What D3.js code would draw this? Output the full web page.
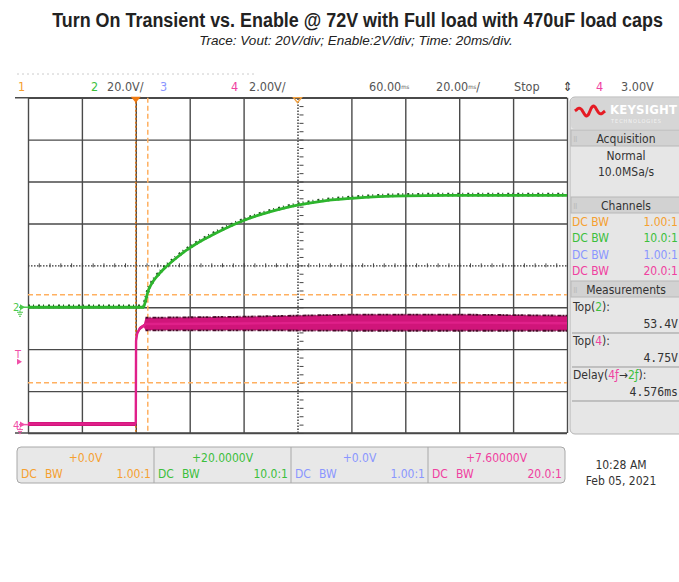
<!DOCTYPE html>
<html>
<head>
<meta charset="utf-8">
<script src="https://cdn.jsdelivr.net/npm/d3@7"></script>
<style>
  body { margin: 0; background: #fff; }
  svg { display: block; }
  .narrow { font-family: "Liberation Sans Narrow", "DejaVu Sans Condensed", "Roboto Condensed", sans-serif; }
  .mono { font-family: "DejaVu Sans Mono", "Liberation Mono", monospace; }
</style>
</head>
<body>
<svg id="chart" width="679" height="582"></svg>
<script>
// Vout (channel 2), time in ms, volts
const voutT = [-40, 2.8, 3.6, 4.5, 6, 8, 10, 15, 20, 25, 30, 35, 40, 45, 50, 55, 60, 70, 80, 90, 100, 120, 140, 160];
const voutV = [0, 0, 3, 7.5, 11.5, 15, 17.8, 23.5, 28.3, 32.2, 35.6, 38.7, 41.4, 43.7, 45.6, 47.3, 48.7, 50.8, 52.0, 52.8, 53.2, 53.4, 53.4, 53.4];

// Enable (channel 4) noise envelope
const enableT  = [-40, -0.2, 0.0, 0.1, 0.5, 1.5, 3.0, 3.6, 40, 80, 120, 160];
const enableHi = [0.13, 0.13, 0.3, 4.1, 4.45, 4.68, 4.8, 5.1, 5.15, 5.25, 5.25, 5.2];
const enableLo = [-0.06, -0.06, -0.06, 3.9, 4.25, 4.5, 4.65, 4.5, 4.5, 4.48, 4.48, 4.48];

// cursors
const cursorTimes = [4.45];
const cursorLevels = [2.0, 6.2];   // on channel 4 scale
const triggerTime = 0;
const triggerLevel = 3.0;

const timeTicks = d3.range(-40, 161, 20);
const voutTicks = d3.range(-60, 101, 20);

const headerItems = [
  { x: 18, text: '1', color: '#f5a030' },
  { x: 91, text: '2', color: '#3cbf3c' },
  { x: 107, text: '20.0V/', color: '#555' },
  { x: 160, text: '3', color: '#8a96ff' },
  { x: 231, text: '4', color: '#f040a0' },
  { x: 249, text: '2.00V/', color: '#555' },
  { x: 369, text: '60.00', unit: 'ms', color: '#555' },
  { x: 436, text: '20.00', unit: 'ms', tail: '/', color: '#555' },
  { x: 514, text: 'Stop', color: '#555' },
  { x: 563, text: '⇕', color: '#333' },
  { x: 596, text: '4', color: '#f040a0' },
  { x: 621, text: '3.00V', color: '#555' }
];

const channels = [
  { name: 'DC BW', ratio: '1.00:1', offset: '+0.0V', color: '#f5a030' },
  { name: 'DC BW', ratio: '10.0:1', offset: '+20.0000V', color: '#3cbf3c' },
  { name: 'DC BW', ratio: '1.00:1', offset: '+0.0V', color: '#8a96ff' },
  { name: 'DC BW', ratio: '20.0:1', offset: '+7.60000V', color: '#f040a0' }
];

const svg = d3.select('#chart');
const plotLeft = 28, plotRight = 567, plotTop = 97.7, plotBottom = 433;
const centreTime = 60, centreVout = 20;

const x = d3.scaleLinear().domain([-40, 160]).range([plotLeft, plotRight]);
const yVout = d3.scaleLinear().domain([-60, 100]).range([plotBottom, plotTop]);
const yEn = d3.scaleLinear().domain([-0.4, 15.6]).range([plotBottom, plotTop]);

// squeeze a text horizontally so it spans the given width
function fitText(sel, cx, cy, width) {
  const w = sel.node().getComputedTextLength();
  sel.attr('text-anchor', 'middle')
    .attr('transform', `translate(${cx},${cy}) scale(${Math.min(1, width / w)},1)`);
}

// title
const title = svg.append('text')
  .style('font-family', '"Liberation Sans", Arial, sans-serif')
  .style('font-size', '20.5px').style('font-weight', 'bold').style('fill', '#222')
  .text('Turn On Transient vs. Enable @ 72V with Full load with 470uF load caps');
fitText(title, 357.5, 27, 611);

const subtitle = svg.append('text')
  .style('font-family', '"Liberation Sans", Arial, sans-serif')
  .style('font-size', '13.5px').style('font-style', 'italic').style('fill', '#222')
  .text('Trace: Vout: 20V/div; Enable:2V/div; Time: 20ms/div.');
fitText(subtitle, 356, 45, 342);

// faint dotted line above header
svg.append('line')
  .attr('x1', 17).attr('x2', 255).attr('y1', 74).attr('y2', 74)
  .attr('stroke', '#ccc').attr('stroke-width', 1).attr('stroke-dasharray', '2,3');

// header row
const header = svg.append('g').attr('class', 'narrow').style('font-size', '12.5px');
headerItems.forEach(h => {
  const t = header.append('text').attr('x', h.x).attr('y', 91).style('fill', h.color).text(h.text);
  if (h.unit) t.append('tspan').style('font-size', '6px').attr('dy', -2).text(h.unit);
  if (h.tail) t.append('tspan').attr('dy', 2).text(h.tail);
});

// grid through axes
const grid = svg.append('g');
const gx = grid.append('g')
  .attr('transform', `translate(0,${plotBottom})`)
  .call(d3.axisBottom(x).tickValues(timeTicks).tickSize(-(plotBottom - plotTop)).tickFormat(''))
  .call(g => g.select('.domain').remove());
const gy = grid.append('g')
  .attr('transform', `translate(${plotLeft},0)`)
  .call(d3.axisLeft(yVout).tickValues(voutTicks).tickSize(-(plotRight - plotLeft)).tickFormat(''))
  .call(g => g.select('.domain').remove());
grid.selectAll('.tick line').attr('stroke', '#4a4a4a').attr('stroke-width', 1.4);
gx.selectAll('.tick').filter(d => d === centreTime).select('line')
  .attr('stroke-dasharray', '1.5,1.5').attr('stroke', '#333');
gy.selectAll('.tick').filter(d => d === centreVout).select('line')
  .attr('stroke-dasharray', '1.5,1.5').attr('stroke', '#333');

// top/bottom edges run a bit further left
[plotTop, plotBottom].forEach(yy => {
  svg.append('line').attr('x1', 15).attr('x2', plotRight).attr('y1', yy).attr('y2', yy)
    .attr('stroke', '#4a4a4a').attr('stroke-width', 1.5);
});

// minor ticks on the centre lines
svg.append('g')
  .attr('transform', `translate(0,${yVout(centreVout) + 2})`)
  .call(d3.axisBottom(x).tickValues(d3.range(-40, 161, 4)).tickSize(-4).tickFormat(''))
  .call(g => g.select('.domain').remove())
  .selectAll('line').attr('stroke', '#444');
svg.append('g')
  .attr('transform', `translate(${x(centreTime) + 2},0)`)
  .call(d3.axisLeft(yVout).tickValues(d3.range(-60, 101, 4)).tickSize(-4).tickFormat(''))
  .call(g => g.select('.domain').remove())
  .selectAll('line').attr('stroke', '#444');

// cursors
svg.selectAll('.vcursor').data(cursorTimes).enter().append('line')
  .attr('x1', d => x(d)).attr('x2', d => x(d)).attr('y1', plotTop).attr('y2', plotBottom)
  .attr('stroke', '#ffb060').attr('stroke-width', 1.5).attr('stroke-dasharray', '5,3');
svg.selectAll('.hcursor').data(cursorLevels).enter().append('line')
  .attr('x1', plotLeft).attr('x2', plotRight).attr('y1', d => yEn(d)).attr('y2', d => yEn(d))
  .attr('stroke', '#ffb060').attr('stroke-width', 1.5).attr('stroke-dasharray', '5,3');
svg.append('line')
  .attr('x1', x(triggerTime)).attr('x2', x(triggerTime)).attr('y1', plotTop).attr('y2', plotBottom)
  .attr('stroke', '#e07a1a').attr('stroke-width', 1.6).attr('stroke-dasharray', '2,2');

// trigger / delay markers on top edge
svg.append('path')
  .attr('d', `M${x(triggerTime) - 5},${plotTop - 1} L${x(triggerTime) + 5},${plotTop - 1} L${x(triggerTime)},${plotTop + 5} Z`)
  .attr('fill', '#f07a10');
svg.append('path')
  .attr('d', `M${x(centreTime) - 4},${plotTop} L${x(centreTime) + 4},${plotTop} L${x(centreTime)},${plotTop + 5} Z`)
  .attr('fill', 'none').attr('stroke', '#f0a040').attr('stroke-width', 1.3);

// Enable trace (noise band)
const enData = enableT.map((t, i) => ({ t, hi: enableHi[i], lo: enableLo[i] }));
svg.append('path').datum(enData)
  .attr('d', d3.area().x(d => x(d.t)).y0(d => yEn(d.lo)).y1(d => yEn(d.hi)))
  .attr('fill', '#d0157a');
svg.append('path').datum(enData)
  .attr('d', d3.line().x(d => x(d.t)).y(d => yEn((d.hi + d.lo) / 2)))
  .attr('fill', 'none').attr('stroke', '#e0208a').attr('stroke-width', 2.4);
['hi', 'lo'].forEach(k => {
  svg.append('path').datum(enData.filter(d => d.t > 3))
    .attr('d', d3.line().x(d => x(d.t)).y(d => yEn(d[k])))
    .attr('fill', 'none').attr('stroke', '#4a0a2a').attr('stroke-width', 1.8)
    .attr('stroke-dasharray', '3,1,1,2,4,1,2,1');
});

// Vout trace
const voutData = voutT.map((t, i) => ({ t, v: voutV[i] }));
const voutLine = d3.line().x(d => x(d.t)).y(d => yVout(d.v)).curve(d3.curveMonotoneX);
svg.append('path').datum(voutData)
  .attr('d', voutLine)
  .attr('transform', 'translate(0,-0.8)')
  .attr('fill', 'none').attr('stroke', '#1f4f1f').attr('stroke-width', 3.8)
  .attr('stroke-dasharray', '2,3,1,4');
svg.append('path').datum(voutData)
  .attr('d', voutLine)
  .attr('fill', 'none').attr('stroke', '#2db52d').attr('stroke-width', 2.8);

// left markers
const mk = svg.append('g').attr('class', 'narrow').style('font-size', '11px');
function marker(yy, label, color, ground) {
  mk.append('text').attr('x', 13).attr('y', yy + 4).style('fill', color).text(label);
  mk.append('path').attr('d', `M20,${yy - 3} L25,${yy} L20,${yy + 3} Z`).attr('fill', color);
  mk.append('line').attr('x1', 19).attr('x2', 28).attr('y1', yy).attr('y2', yy).attr('stroke', color).attr('stroke-width', 1.5);
  if (ground) {
    mk.append('path').attr('d', `M17,${yy + 5} L23,${yy + 5} M18,${yy + 7} L22,${yy + 7} M19,${yy + 9} L21,${yy + 9} M20,${yy + 3} L20,${yy + 5}`)
      .attr('stroke', color).attr('stroke-width', 1);
  }
}
marker(yVout(0), '2', '#4cc84c', true);
marker(yEn(0), '4', '#f050a8', true);
mk.append('text').attr('x', 15).attr('y', yEn(triggerLevel) - 4).style('fill', '#f050a8').text('T');
mk.append('path').attr('d', `M17,${yEn(triggerLevel) - 3} L22,${yEn(triggerLevel)} L17,${yEn(triggerLevel) + 3} Z`).attr('fill', '#f050a8');

// right panel
const panel = svg.append('g').attr('class', 'narrow');
panel.append('rect').attr('x', 570).attr('y', 97).attr('width', 130).attr('height', 337).attr('rx', 5)
  .attr('fill', '#e6e6e6').attr('stroke', '#b4b4b4');
panel.append('rect').attr('x', 571).attr('y', 98).attr('width', 128).attr('height', 31).attr('rx', 4).attr('fill', '#d6d6d6');
// keysight logo wave
const wave = d3.range(0, 31).map(i => [575 + i, 111 - Math.sin(i / 30 * Math.PI * 4) * (6 - Math.abs(i - 15) / 3.5)]);
panel.append('path').attr('d', d3.line().curve(d3.curveCatmullRom)(wave))
  .attr('fill', 'none').attr('stroke', '#e51b24').attr('stroke-width', 3);
panel.append('text').attr('x', 610).attr('y', 114).style('font-size', '13px').style('font-weight', 'bold')
  .style('fill', '#fff').style('letter-spacing', '0.2px').text('KEYSIGHT');
panel.append('text').attr('x', 611).attr('y', 123).style('font-size', '5.5px')
  .style('fill', '#f4f4f4').style('letter-spacing', '1px').text('TECHNOLOGIES');

function sectionHeader(yy, label) {
  panel.append('rect').attr('x', 571).attr('y', yy - 9).attr('width', 128).attr('height', 16)
    .attr('fill', '#d2d2d2').attr('stroke', '#b8b8b8');
  panel.append('text').attr('x', 626).attr('y', yy + 3.5).attr('text-anchor', 'middle')
    .style('font-size', '12px').style('fill', '#333').text(label);
  panel.append('text').attr('x', 573).attr('y', yy + 3).style('font-size', '7px').style('fill', '#aaa').text('⠿');
}
sectionHeader(139, 'Acquisition');
panel.append('text').attr('x', 626).attr('y', 160).attr('text-anchor', 'middle').style('font-size', '12px').style('fill', '#333').text('Normal');
panel.append('text').attr('x', 626).attr('y', 176).attr('text-anchor', 'middle').style('font-size', '12px').style('fill', '#333').text('10.0MSa/s');
sectionHeader(206, 'Channels');
channels.forEach((c, i) => {
  const yy = 226 + i * 16.4;
  panel.append('text').attr('x', 572).attr('y', yy).style('font-size', '12px').style('fill', c.color).text(c.name);
  panel.append('text').attr('x', 678).attr('y', yy).attr('text-anchor', 'end').style('font-size', '12px').style('fill', c.color).text(c.ratio);
});
sectionHeader(290, 'Measurements');

const meas = [
  { label: [['Top(', '#333'], ['2', '#3cbf3c'], ['):', '#333']], value: '53.4V', y: 311 },
  { label: [['Top(', '#333'], ['4', '#f040a0'], ['):', '#333']], value: '4.75V', y: 345 },
  { label: [['Delay(', '#333'], ['4ƒ', '#f040a0'], ['→', '#333'], ['2ƒ', '#3cbf3c'], ['):', '#333']], value: '4.576ms', y: 379 }
];
meas.forEach(m => {
  const t = panel.append('text').attr('x', 573).attr('y', m.y).style('font-size', '12px');
  m.label.forEach(([s, col]) => t.append('tspan').style('fill', col).text(s));
  panel.append('text').attr('x', 678).attr('y', m.y + 17).attr('text-anchor', 'end')
    .attr('class', 'mono').style('font-size', '11.5px').style('fill', '#333').text(m.value);
  panel.append('line').attr('x1', 572).attr('x2', 679).attr('y1', m.y + 22).attr('y2', m.y + 22)
    .attr('stroke', '#999').attr('stroke-width', 1);
});

// bottom channel bar
const bar = svg.append('g').attr('class', 'narrow');
bar.append('rect').attr('x', 17).attr('y', 447).attr('width', 548).attr('height', 36).attr('rx', 4)
  .attr('fill', '#e8e8e8').attr('stroke', '#a8a8a8');
const bw = 548 / 4;
channels.forEach((c, i) => {
  const x0 = 17 + i * bw;
  if (i > 0) bar.append('line').attr('x1', x0).attr('x2', x0).attr('y1', 447).attr('y2', 483).attr('stroke', '#a8a8a8');
  bar.append('text').attr('x', x0 + bw / 2).attr('y', 462).attr('text-anchor', 'middle').style('font-size', '12px').style('fill', c.color).text(c.offset);
  bar.append('text').attr('x', x0 + 4).attr('y', 478).style('font-size', '12px').style('fill', c.color).text('DC');
  bar.append('text').attr('x', x0 + 28).attr('y', 478).style('font-size', '12px').style('fill', c.color).text('BW');
  bar.append('text').attr('x', x0 + bw - 3).attr('y', 478).attr('text-anchor', 'end').style('font-size', '12px').style('fill', c.color).text(c.ratio);
});
bar.append('text').attr('x', 621).attr('y', 469).attr('text-anchor', 'middle').style('font-size', '12px').style('fill', '#333').text('10:28 AM');
bar.append('text').attr('x', 621).attr('y', 485).attr('text-anchor', 'middle').style('font-size', '12px').style('fill', '#333').text('Feb 05, 2021');
</script>
</body>
</html>
